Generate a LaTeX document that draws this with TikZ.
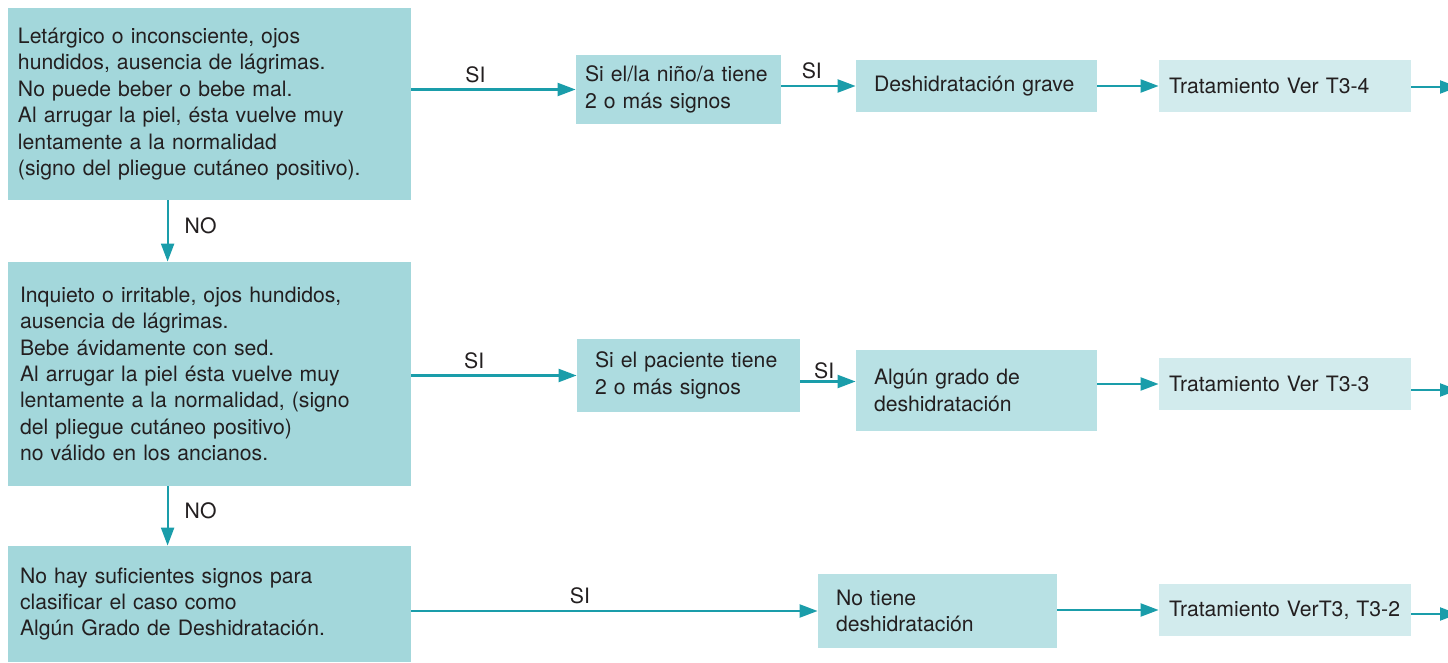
\documentclass[tikz,border=0pt]{standalone}
\usepackage{fontspec}
\setmainfont{TeX Gyre Heros}
\usetikzlibrary{arrows.meta}
\definecolor{boxA}{HTML}{A3D7DB}
\definecolor{boxB}{HTML}{ADDCE0}
\definecolor{boxC}{HTML}{B8E1E4}
\definecolor{boxD}{HTML}{D2EBED}
\definecolor{arr}{HTML}{1A9DAA}
\definecolor{txt}{HTML}{231F20}
\tikzset{
  box/.style={rectangle, draw=none, align=left, anchor=center, inner ysep=0pt,
    font=\fontsize{10.6pt}{13.2pt}\selectfont, text=txt},
  conn/.style={draw=arr, line width=1.1pt, -{Triangle[length=9pt,width=6.5pt]}},
  lab/.style={font=\fontsize{10.6pt}{12pt}\selectfont, text=txt, inner sep=1pt}
}
\newcommand{\mb}[1]{\mbox{#1}}
\begin{document}
\begin{tikzpicture}[x=0.5pt,y=-0.5pt]
\useasboundingbox (0,0) rectangle (1448,663);
% left column
\node[box, fill=boxA, minimum width=201.5pt, minimum height=96pt, inner xsep=5pt, text width=191.5pt] (A1) at (209.5,104)
 {\mb{Letárgico o inconsciente, ojos}\\\mb{hundidos, ausencia de lágrimas.}\\\mb{No puede beber o bebe mal.}\\\mb{Al arrugar la piel, ésta vuelve muy}\\\mb{lentamente a la normalidad}\\\mb{(signo del pliegue cutáneo positivo).}};
\node[box, fill=boxA, minimum width=201.5pt, minimum height=112pt, inner xsep=6pt, text width=189.5pt] (A2) at (209.5,374)
 {\mb{Inquieto o irritable, ojos hundidos,}\\\mb{ausencia de lágrimas.}\\\mb{Bebe ávidamente con sed.}\\\mb{Al arrugar la piel ésta vuelve muy}\\\mb{lentamente a la normalidad, (signo}\\\mb{del pliegue cutáneo positivo)}\\\mb{no válido en los ancianos.}};
\node[box, fill=boxA, minimum width=201.5pt, minimum height=58pt, inner xsep=6pt, text width=189.5pt] (A3) at (209.5,604)
 {\mb{No hay suficientes signos para}\\\mb{clasificar el caso como}\\\mb{Algún Grado de Deshidratación.}};
% second column
\node[box, fill=boxB, minimum width=102.5pt, minimum height=34.5pt, inner xsep=4.5pt, text width=93.5pt] (B1) at (678.5,89.5)
 {\mb{Si el/la niño/a tiene}\\\mb{2 o más signos}};
\node[box, fill=boxB, minimum width=111.5pt, minimum height=36.5pt, inner xsep=9pt, text width=93.5pt] (B2) at (688.5,375.5)
 {\mb{Si el paciente tiene}\\\mb{2 o más signos}};
\node[box, fill=boxC, minimum width=119.5pt, minimum height=37pt, inner xsep=9pt, text width=101.5pt] (B3) at (937.5,611)
 {\mb{No tiene}\\\mb{deshidratación}};
% third column
\node[box, fill=boxC, minimum width=120.5pt, minimum height=26pt, inner xsep=9pt, text width=102.5pt] (C1) at (976.5,86)
 {\mb{Deshidratación grave}};
\node[box, fill=boxC, minimum width=120.5pt, minimum height=40.5pt, inner xsep=9pt, text width=102.5pt] (C2) at (976.5,390.5)
 {\mb{Algún grado de}\\\mb{deshidratación}};
% treatment column
\node[box, fill=boxD, minimum width=126pt, minimum height=26pt, inner xsep=5pt, text width=116pt] (D1) at (1285,86)
 {\mb{Tratamiento Ver T3-4}};
\node[box, fill=boxD, minimum width=126pt, minimum height=26pt, inner xsep=5pt, text width=116pt] (D2) at (1285,384)
 {\mb{Tratamiento Ver T3-3}};
\node[box, fill=boxD, minimum width=126pt, minimum height=26pt, inner xsep=5pt, text width=116pt] (D3) at (1285,610)
 {\mb{Tratamiento VerT3, T3-2}};
% free ends
\coordinate (E1) at (1458,87);
\coordinate (E2) at (1458,390);
\coordinate (E3) at (1458,614);
% connectors
\draw[conn] (A1.east |- B1.west) -- node[lab, pos=0.39, above, yshift=2pt] (s1) {SI} (B1.west);
\draw[conn] (B1.east |- C1.west) -- node[lab, pos=0.41, above, yshift=2pt] (s2) {SI} (C1.west);
\draw[conn] (C1.east) -- (D1.west);
\draw[conn] (D1.east |- E1) -- (E1);
\draw[conn] ([xshift=80pt]A1.south west) -- node[lab, right, pos=0.42, xshift=7pt] (n1) {NO} ([xshift=80pt]A2.north west);
\draw[conn] (A2.east |- B2.west) -- node[lab, pos=0.38, above, yshift=2pt] (s3) {SI} (B2.west);
\draw[conn] ([yshift=-3pt]B2.east) -- node[lab, pos=0.43, above, yshift=0pt] (s4) {SI} ([yshift=-3pt]B2.east -| C2.west);
\draw[conn] (C2.east |- D2.west) -- (D2.west);
\draw[conn] (D2.east |- E2) -- (E2);
\draw[conn] ([xshift=80pt]A2.south west) -- node[lab, right, pos=0.42, xshift=7pt] (n2) {NO} ([xshift=80pt]A3.north west);
\draw[conn] (A3.east |- B3.west) -- node[lab, pos=0.415, above, yshift=2pt] (s5) {SI} (B3.west);
\draw[conn] (B3.east |- D3.west) -- (D3.west);
\draw[conn] (D3.east |- E3) -- (E3);
\end{tikzpicture}
\end{document}
